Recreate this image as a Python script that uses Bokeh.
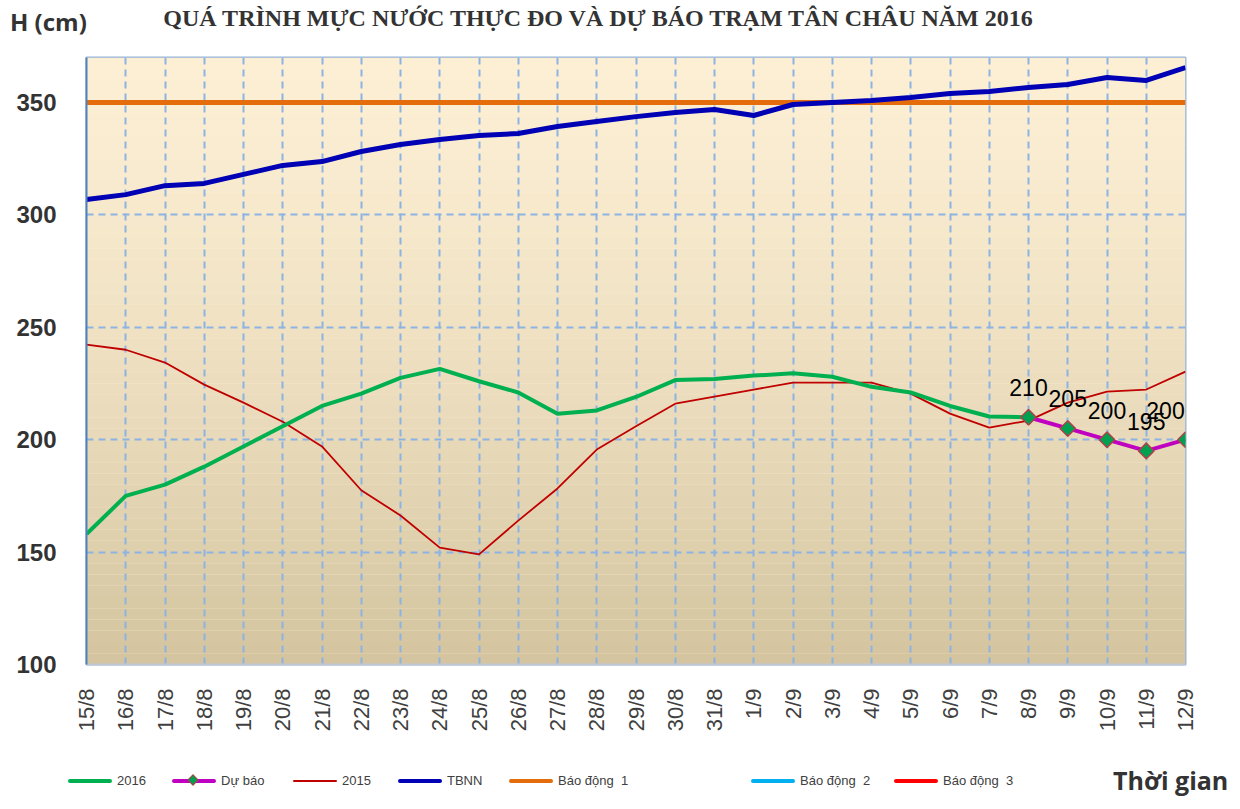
from math import pi
from bokeh.plotting import figure
from bokeh.models import (ColumnDataSource, FixedTicker, LabelSet, BoxAnnotation, Range1d, Div)
from bokeh.layouts import column
from bokeh.core.properties import value
from bokeh.embed import file_html
from bokeh.resources import INLINE

# ---------------- data ----------------
dates = ["15/8", "16/8", "17/8", "18/8", "19/8", "20/8", "21/8", "22/8", "23/8", "24/8",
         "25/8", "26/8", "27/8", "28/8", "29/8", "30/8", "31/8", "1/9", "2/9", "3/9",
         "4/9", "5/9", "6/9", "7/9", "8/9", "9/9", "10/9", "11/9", "12/9"]

h2016 = [158, 175, 180, 188, 197, 206, 215, 220.5, 227.5, 231.5, 226, 221, 211.5, 213,
         219, 226.5, 227, 228.5, 229.5, 228, 223.5, 221, 215, 210.3, 210]

du_bao_idx = [24, 25, 26, 27, 28]
du_bao = [210, 205, 200, 195, 200]

h2015 = [242.3, 240, 234.3, 224.5, 216.5, 208, 197, 177.5, 166.3, 152, 149, 164, 178.3,
         195.6, 206, 216, 219.2, 222.3, 225.4, 225.4, 225.4, 220.5, 211.6, 205.4, 208.5,
         216.5, 221.4, 222.3, 230.3]

tbnn = [306.8, 309, 313, 314, 318, 322, 323.7, 328.2, 331.3, 333.5, 335.3, 336.2, 339.3,
        341.5, 343.7, 345.5, 346.9, 344.2, 349.1, 350, 350.9, 352.2, 354, 354.9, 356.7,
        358, 361.1, 359.8, 365.5]

bao_dong_1 = 350
bao_dong_2 = 400
bao_dong_3 = 450

y_ticks = [100, 150, 200, 250, 300, 350]

title_text = "QUÁ TRÌNH MỰC NƯỚC THỰC ĐO VÀ DỰ BÁO TRẠM TÂN CHÂU NĂM 2016"
y_name = "H (cm)"
x_name = "Thời gian"
legend_labels = ["2016", "Dự báo", "2015", "TBNN", "Báo động&nbsp;&nbsp;1",
                 "Báo động&nbsp;&nbsp;2", "Báo động&nbsp;&nbsp;3"]

# ---------------- styles ----------------
C2016, CDB, C2015, CTB = "#00b050", "#c000c0", "#c00000", "#0000b4"
CBD1, CBD2, CBD3 = "#e46c0a", "#00b0f0", "#ff0000"
W = 1232
TOP_H, BOT_H = 50, 45

# ---------------- top: titles ----------------
top_html = (
    f'<div style="position:relative;width:{W}px;height:{TOP_H}px;">'
    f'<span style="position:absolute;left:10px;top:6px;line-height:32px;white-space:nowrap;'
    f'font-family:\'Open Sans\';font-weight:bold;font-size:24px;color:#333333;">{y_name}</span>'
    f'<span style="position:absolute;left:0px;width:1196px;top:3px;line-height:30px;'
    f'text-align:center;white-space:nowrap;font-family:\'Liberation Serif\';font-weight:bold;'
    f'font-size:24px;color:#333333;">{title_text}</span>'
    f'</div>')
top = Div(text=top_html, width=W, height=TOP_H, margin=0)

# ---------------- main chart ----------------
p = figure(width=W, height=705, output_backend="svg", toolbar_location=None,
           x_range=Range1d(0, len(dates) - 1), y_range=Range1d(100, 370),
           min_border_left=86, min_border_right=47, min_border_top=7, min_border_bottom=91)
p.background_fill_color = "#fdefd4"
p.border_fill_color = "white"
p.outline_line_color = "#95b3d7"
p.outline_line_width = 2

# gradient background (styling only)
top_c = (0xfd, 0xef, 0xd4)
bot_c = (0xd3, 0xc4, 0x9f)
n_strips = 54
for k in range(n_strips):
    t = (k + 0.5) / n_strips
    w = (1 - t) ** 1.4
    c = tuple(int(round(top_c[j] * (1 - w) + bot_c[j] * w)) for j in range(3))
    p.add_layout(BoxAnnotation(bottom=100 + 5 * k, top=100 + 5 * (k + 1),
                               fill_color="#%02x%02x%02x" % c, fill_alpha=1,
                               line_color=None, level="image"))

xs = list(range(len(dates)))

p.xaxis.ticker = FixedTicker(ticks=xs)
p.xaxis.major_label_overrides = {i: d for i, d in enumerate(dates)}
p.xaxis.major_label_orientation = pi / 2
p.xaxis.major_label_text_font = "Liberation Sans"
p.xaxis.major_label_text_font_size = "22px"
p.xaxis.major_label_text_color = "#404040"
p.xaxis.major_label_standoff = 18
p.xaxis.major_tick_line_color = None
p.xaxis.minor_tick_line_color = None
p.xaxis.axis_line_color = "#c0c8d4"
p.xaxis.axis_line_width = 2

p.yaxis.ticker = FixedTicker(ticks=y_ticks)
p.yaxis.major_label_text_font = "Liberation Sans"
p.yaxis.major_label_text_font_style = "bold"
p.yaxis.major_label_text_font_size = "24px"
p.yaxis.major_label_text_color = "#333333"
p.yaxis.major_label_standoff = 24
p.yaxis.major_tick_line_color = None
p.yaxis.minor_tick_line_color = None
p.yaxis.axis_line_color = "#4f81bd"
p.yaxis.axis_line_width = 2

p.xgrid.ticker = FixedTicker(ticks=xs)
p.ygrid.ticker = FixedTicker(ticks=y_ticks)
for g in (p.xgrid, p.ygrid):
    g.grid_line_color = "#8db3e2"
    g.grid_line_width = 2
    g.grid_line_dash = "7 5"

p.line([0, len(dates) - 1], [bao_dong_1, bao_dong_1], line_color=CBD1, line_width=5)
p.line([0, len(dates) - 1], [bao_dong_2, bao_dong_2], line_color=CBD2, line_width=4)
p.line([0, len(dates) - 1], [bao_dong_3, bao_dong_3], line_color=CBD3, line_width=4)
p.line(xs, tbnn, line_color=CTB, line_width=5)
p.line(xs, h2015, line_color=C2015, line_width=1.8)
p.line(xs[:len(h2016)], h2016, line_color=C2016, line_width=4)
p.line(du_bao_idx, du_bao, line_color=CDB, line_width=4)
p.scatter(du_bao_idx, du_bao, marker="square", size=11, angle=pi / 4, fill_color="#00a050",
          line_color="#b0404a", line_width=1.5)

lab_xoff = [0] * (len(du_bao) - 1) + [-20]
src = ColumnDataSource(dict(x=du_bao_idx, y=du_bao, t=[str(v) for v in du_bao], xo=lab_xoff))
p.add_layout(LabelSet(x="x", y="y", text="t", source=src, y_offset=21, x_offset="xo",
                      text_align="center", text_baseline="bottom",
                      text_font=value("Liberation Sans"), text_font_size=value("23px"),
                      text_color="black"))

# ---------------- bottom: legend + x name ----------------
leg_x = [68, 172, 293, 398, 509, 751, 894]
leg_col = [C2016, CDB, C2015, CTB, CBD1, CBD2, CBD3]
leg_th = [4, 4, 2, 4, 4, 4, 4]
cy = 26
parts = [f'<div style="position:relative;width:{W}px;height:{BOT_H}px;">']
for lab, lx, col, th in zip(legend_labels, leg_x, leg_col, leg_th):
    parts.append(f'<span style="position:absolute;left:{lx}px;top:{cy - th / 2}px;width:44px;'
                 f'height:{th}px;background:{col};border-radius:2px;"></span>')
    if lab.startswith("Dự"):
        parts.append(f'<span style="position:absolute;left:{lx + 17}px;top:{cy - 5}px;width:8px;'
                     f'height:8px;background:#00a050;border:1.5px solid #b0404a;'
                     f'transform:rotate(45deg);"></span>')
    parts.append(f'<span style="position:absolute;left:{lx + 49}px;top:{cy - 9}px;'
                 f'line-height:18px;white-space:nowrap;font-family:\'Liberation Sans\';'
                 f'font-size:13px;color:#404040;">{lab}</span>')
parts.append(f'<span style="position:absolute;left:1113px;top:{cy - 17}px;line-height:32px;'
             f'white-space:nowrap;font-family:\'Open Sans\';font-weight:bold;font-size:25px;'
             f'color:#333333;">{x_name}</span>')
parts.append('</div>')
bot = Div(text="".join(parts), width=W, height=BOT_H, margin=0)

layout = column(top, p, bot, spacing=0)
open("out.html", "w").write(file_html(layout, INLINE))
